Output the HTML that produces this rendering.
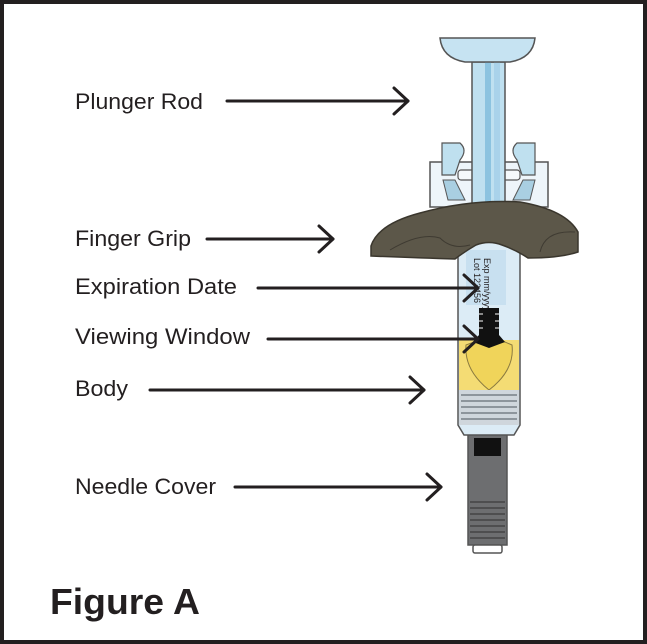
<!DOCTYPE html>
<html><head><meta charset="utf-8"><style>
html,body{margin:0;padding:0;background:#fff}
svg{display:block}
text{font-family:"Liberation Sans",sans-serif;fill:#231f20}
</style></head><body>
<svg width="647" height="644" viewBox="0 0 647 644" xmlns="http://www.w3.org/2000/svg">
<rect x="2" y="2" width="643" height="640" fill="#fff" stroke="#231f20" stroke-width="4"/>
<g font-size="22" style="fill:#333">
<text x="75" y="109" textLength="128" lengthAdjust="spacingAndGlyphs">Plunger Rod</text>
<text x="75" y="246" textLength="116" lengthAdjust="spacingAndGlyphs">Finger Grip</text>
<text x="75" y="294" textLength="162" lengthAdjust="spacingAndGlyphs">Expiration Date</text>
<text x="75" y="344" textLength="175" lengthAdjust="spacingAndGlyphs">Viewing Window</text>
<text x="75" y="396" textLength="53" lengthAdjust="spacingAndGlyphs">Body</text>
<text x="75" y="494" textLength="141" lengthAdjust="spacingAndGlyphs">Needle Cover</text>
</g>
<text x="50" y="614" font-size="36" font-weight="bold" textLength="150" lengthAdjust="spacingAndGlyphs">Figure A</text>

<!-- needle cover -->
<rect x="468" y="432" width="39" height="113" fill="#6d6e70" stroke="#555" stroke-width="1.5"/>
<rect x="474" y="438" width="27" height="18" fill="#111"/>
<g stroke="#444" stroke-width="1.5">
<line x1="470" y1="502" x2="505" y2="502"/><line x1="470" y1="508" x2="505" y2="508"/>
<line x1="470" y1="514" x2="505" y2="514"/><line x1="470" y1="520" x2="505" y2="520"/>
<line x1="470" y1="526" x2="505" y2="526"/><line x1="470" y1="532" x2="505" y2="532"/>
<line x1="470" y1="538" x2="505" y2="538"/>
</g>
<rect x="473" y="545" width="29" height="8" rx="2" fill="#fff" stroke="#555" stroke-width="1.5"/>

<!-- barrel -->
<path d="M458 240 L520 240 L520 425 L514 435 L464 435 L458 425 Z" fill="#dcecf6" stroke="#555" stroke-width="1.5"/>
<rect x="459" y="340" width="60" height="50" fill="#f4dc74"/>
<path d="M466 345 Q480 340 489 335 Q500 340 512 345 Q515 370 489 390 Q464 370 466 345 Z" fill="#f0d45a" stroke="#8a7a40" stroke-width="1"/>
<rect x="459" y="390" width="60" height="35" fill="#cfd6dc"/>
<g stroke="#8d959c" stroke-width="2">
<line x1="461" y1="395" x2="517" y2="395"/><line x1="461" y1="401" x2="517" y2="401"/>
<line x1="461" y1="407" x2="517" y2="407"/><line x1="461" y1="413" x2="517" y2="413"/>
<line x1="461" y1="419" x2="517" y2="419"/>
</g>
<rect x="466" y="250" width="40" height="55" fill="#c8e0f0"/>
<text transform="translate(484,258) rotate(90)" font-size="9">Exp mm/yyyy</text>
<text transform="translate(474,258) rotate(90)" font-size="9">Lot 123456</text>
<!-- stopper -->
<path d="M479 308 L499 308 L499 335 L505 342 L489 348 L473 342 L479 335 Z" fill="#111"/>
<g stroke="#fff" stroke-width="1"><line x1="479" y1="314" x2="483" y2="314"/><line x1="495" y1="314" x2="499" y2="314"/><line x1="479" y1="321" x2="483" y2="321"/><line x1="495" y1="321" x2="499" y2="321"/><line x1="479" y1="328" x2="483" y2="328"/><line x1="495" y1="328" x2="499" y2="328"/></g>

<!-- upper housing -->
<rect x="430" y="162" width="118" height="45" fill="#eef5fa" stroke="#555" stroke-width="1.5"/>
<path d="M442 143 L460 143 Q468 150 460 160 L455 175 L442 175 Z" fill="#bfe0ef" stroke="#555" stroke-width="1.2"/>
<path d="M535 143 L517 143 Q509 150 517 160 L522 175 L535 175 Z" fill="#bfe0ef" stroke="#555" stroke-width="1.2"/>
<rect x="458" y="170" width="62" height="10" rx="3" fill="#f5f9fb" stroke="#555" stroke-width="1.2"/>
<path d="M443 180 L455 180 L465 200 L448 200 Z" fill="#a9cfe2" stroke="#555" stroke-width="1"/>
<path d="M535 180 L523 180 L513 200 L530 200 Z" fill="#a9cfe2" stroke="#555" stroke-width="1"/>
<!-- rod -->
<rect x="472" y="62" width="33" height="145" fill="#bfe0f0" stroke="#555" stroke-width="1.5"/>
<rect x="485" y="62" width="6" height="145" fill="#8cc3e0"/>
<rect x="494" y="62" width="6" height="145" fill="#a9d2ea"/>
<path d="M440 38 L535 38 Q533 58 510 62 L465 62 Q442 58 440 38 Z" fill="#c6e3f2" stroke="#555" stroke-width="1.5"/>

<!-- finger grip -->
<path d="M371 246 Q378 224 420 213 Q470 199 520 202 Q566 210 578 232 L578 252 Q560 258 528 258 Q516 250 502 245 Q489 240 476 245 Q464 252 455 259 Q420 258 371 256 Z" fill="#5c5749" stroke="#3a362d" stroke-width="1.5"/>
<path d="M390 250 Q420 232 440 238 Q452 250 470 245" fill="none" stroke="#3f3b32" stroke-width="1"/>
<path d="M540 252 Q545 230 575 232" fill="none" stroke="#3f3b32" stroke-width="1"/>

<!-- arrows -->
<g stroke="#231f20" stroke-width="3" fill="none" stroke-linecap="round" stroke-linejoin="round">
<line x1="227" y1="101" x2="408" y2="101"/><polyline points="394,88 408,101 394,114"/>
<line x1="207" y1="239" x2="333" y2="239"/><polyline points="319,226 333,239 319,252"/>
<line x1="258" y1="288" x2="478" y2="288"/><polyline points="464,275 478,288 464,301"/>
<line x1="268" y1="339" x2="478" y2="339"/><polyline points="464,326 478,339 464,352"/>
<line x1="150" y1="390" x2="424" y2="390"/><polyline points="410,377 424,390 410,403"/>
<line x1="235" y1="487" x2="441" y2="487"/><polyline points="427,474 441,487 427,500"/>
</g>
</svg>
</body></html>
